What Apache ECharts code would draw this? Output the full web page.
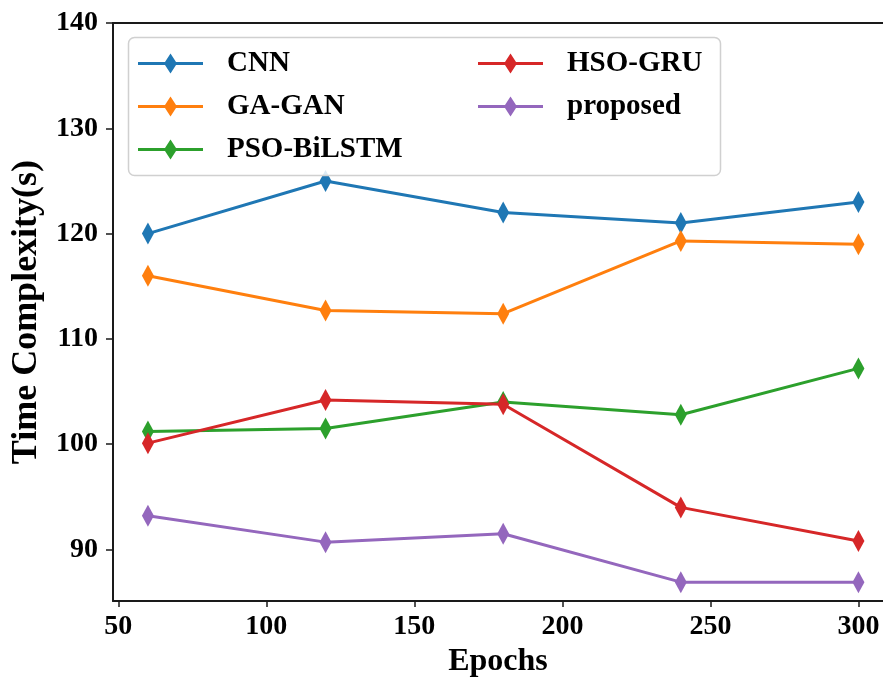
<!DOCTYPE html>
<html>
<head>
<meta charset="utf-8">
<script src="https://cdn.jsdelivr.net/npm/echarts@6/dist/echarts.min.js"></script>
<style>html,body{margin:0;padding:0;background:#fff;}#c{width:883px;height:683px;}</style>
</head>
<body>
<div id="c"></div>
<script>
var epochs = [60, 120, 180, 240, 300];
var cnn = [120.0, 125.0, 122.0, 121.0, 123.0];
var gagan = [116.0, 112.7, 112.4, 119.3, 119.0];
var psobilstm = [101.2, 101.5, 104.0, 102.8, 107.2];
var hsogru = [100.1, 104.2, 103.8, 94.0, 90.8];
var proposed = [93.2, 90.7, 91.5, 86.9, 86.9];
var xTicks = [50, 100, 150, 200, 250, 300];
var yTicks = [90, 100, 110, 120, 130, 140];

var names = ['CNN', 'GA-GAN', 'PSO-BiLSTM', 'HSO-GRU', 'proposed'];
var colors = ['#1f77b4', '#ff7f0e', '#2ca02c', '#d62728', '#9467bd'];
var values = [cnn, gagan, psobilstm, hsogru, proposed];

var FONT = 'Liberation Serif';
var axisColor = '#1a1a1a';
var legendIcon = 'path://M0,8.5 H27 L32.5,0 L38,8.5 H65 V11.5 H38 L32.5,20 L27,11.5 H0 Z';

function pairs(v) { return epochs.map(function (e, i) { return [e, v[i]]; }); }

var series = names.map(function (n, i) {
  return {
    name: n, type: 'line', data: pairs(values[i]),
    xAxisIndex: 0, yAxisIndex: 0,
    symbol: 'diamond', symbolSize: [12, 22],
    lineStyle: { color: colors[i], width: 3 },
    itemStyle: { color: colors[i] },
    emphasis: { disabled: true },
    animation: false, z: 2
  };
});

var legendText = { fontFamily: FONT, fontWeight: 'bold', fontSize: 29, color: '#000', padding: [0, 0, 0, 19] };

function legendData(list) { return list.map(function (n) { return { name: n, icon: legendIcon }; }); }

var chart = echarts.init(document.getElementById('c'), null, { renderer: 'canvas' });
chart.setOption({
  backgroundColor: '#fff',
  animation: false,
  grid: { left: 113, right: 0, top: 23, bottom: 79, containLabel: false },
  xAxis: [{
    type: 'value', min: 48.2, max: 308.3, position: 'bottom',
    name: 'Epochs', nameLocation: 'middle', nameGap: 38,
    nameTextStyle: { fontFamily: FONT, fontWeight: 'bold', fontSize: 32, color: '#000' },
    axisLine: { show: true, onZero: false, lineStyle: { color: axisColor, width: 2 } },
    axisTick: { show: true, inside: false, length: 6, customValues: xTicks, lineStyle: { color: axisColor, width: 1.5 } },
    axisLabel: { customValues: xTicks, margin: 12, fontFamily: FONT, fontWeight: 'bold', fontSize: 28, color: '#000' },
    splitLine: { show: false }
  }, {
    type: 'value', min: 48.2, max: 308.3, position: 'top',
    axisLine: { show: true, onZero: false, lineStyle: { color: axisColor, width: 2 } },
    axisTick: { show: false }, axisLabel: { show: false }, splitLine: { show: false }
  }],
  yAxis: [{
    type: 'value', min: 85.1, max: 140,
    name: 'Time Complexity(s)', nameLocation: 'middle', nameGap: 68,
    nameTextStyle: { fontFamily: FONT, fontWeight: 'bold', fontSize: 36, color: '#000' },
    axisLine: { show: true, onZero: false, lineStyle: { color: axisColor, width: 2 } },
    axisTick: { show: true, inside: false, length: 7, customValues: yTicks, lineStyle: { color: axisColor, width: 1.5 } },
    axisLabel: { customValues: yTicks, margin: 15, fontFamily: FONT, fontWeight: 'bold', fontSize: 28, color: '#000' },
    splitLine: { show: false }
  }],
  graphic: [{
    type: 'rect', z: 50,
    shape: { x: 128.5, y: 37.5, width: 592, height: 138, r: 6 },
    style: { fill: 'rgba(255,255,255,0.85)', stroke: '#d0d0d0', lineWidth: 1.5 }
  }],
  legend: [{
    data: legendData(names.slice(0, 3)), orient: 'vertical', left: 138, top: 49, padding: 0,
    itemWidth: 65, itemHeight: 20, itemGap: 14, z: 60,
    textStyle: legendText, selectedMode: false
  }, {
    data: legendData(names.slice(3)), orient: 'vertical', left: 478, top: 49, padding: 0,
    itemWidth: 65, itemHeight: 20, itemGap: 14, z: 60,
    textStyle: legendText, selectedMode: false
  }],
  series: series
});
</script>
</body>
</html>
